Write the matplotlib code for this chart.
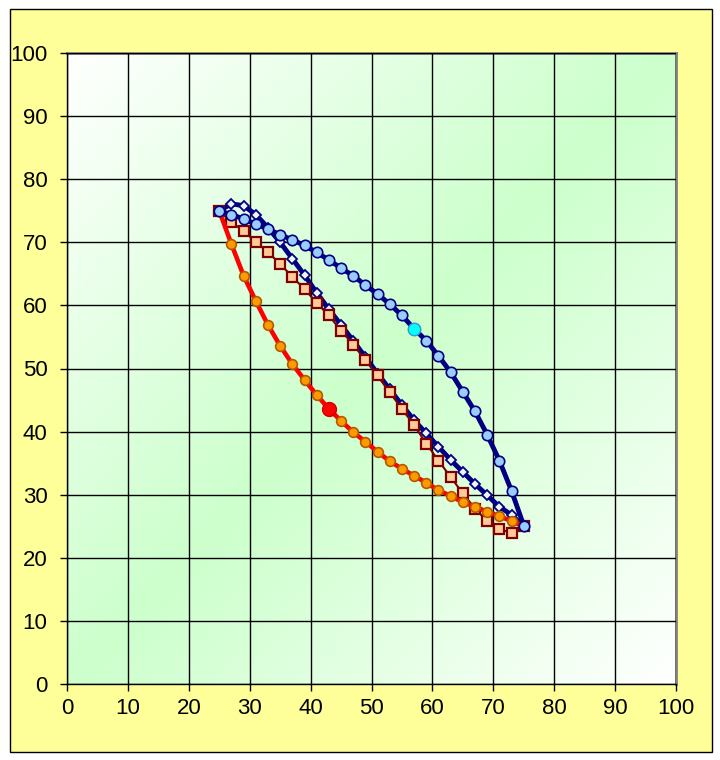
import numpy as np
import matplotlib
matplotlib.use('Agg')
from matplotlib import pyplot as plt
from matplotlib.patches import Rectangle

plt.rcParams['font.family'] = ['Liberation Sans', 'DejaVu Sans']

# x positions shared by all four series
x = [25, 27, 29, 31, 33, 35, 37, 39, 41, 43, 45, 47, 49,
     51, 53, 55, 57, 59, 61, 63, 65, 67, 69, 71, 73, 75]

# red line, orange circles
y_red = [75.0, 69.7, 64.7, 60.7, 56.9, 53.6, 50.7, 48.2, 45.8, 43.6, 41.7, 39.9, 38.4,
         36.8, 35.3, 34.1, 33.0, 31.9, 30.7, 29.8, 28.8, 28.1, 27.3, 26.6, 25.8, 25.0]
# dark red line, squares
y_sq = [75.0, 73.2, 71.8, 70.1, 68.4, 66.6, 64.5, 62.6, 60.4, 58.4, 56.0, 53.8, 51.3,
        48.9, 46.2, 43.6, 41.0, 38.1, 35.4, 32.8, 30.2, 27.8, 25.8, 24.5, 24.0, 25.0]
# navy line, diamonds
y_dia = [75.0, 76.1, 75.8, 74.4, 72.3, 70.0, 67.4, 64.8, 62.0, 59.4, 56.9, 54.4, 51.8,
         49.2, 46.7, 44.2, 41.8, 39.7, 37.6, 35.5, 33.6, 31.7, 29.9, 28.1, 26.8, 25.0]
# navy line, light blue circles
y_circ = [75.0, 74.4, 73.7, 72.9, 72.1, 71.2, 70.4, 69.5, 68.4, 67.2, 65.9, 64.7, 63.2,
          61.8, 60.2, 58.4, 56.3, 54.4, 52.0, 49.4, 46.3, 43.2, 39.5, 35.4, 30.6, 25.1]

# highlighted points
red_pt = (43, 43.6)
cyan_pt = (57, 56.3)

ticks = list(range(0, 101, 10))

fig = plt.figure(figsize=(7.2, 7.6), dpi=100)
fig.patch.set_facecolor('white')
fig.patches.append(Rectangle((10 / 720, 1 - 752 / 760), 702 / 720, 743 / 760,
                             transform=fig.transFigure, facecolor='#FFFF99',
                             edgecolor='black', linewidth=1, zorder=-10))

ax = fig.add_axes([67 / 720, 1 - 684 / 760, 609 / 720, 631 / 760])

# diagonal gradient: green along y=x, white at top-left and bottom-right
gx, gy = np.meshgrid(np.linspace(0, 100, 300), np.linspace(0, 100, 300))
t = np.abs(gx - gy) / 100.0
green = np.array([204, 255, 204]) / 255.0
img = green[None, None, :] * (1 - t[..., None]) + 1.0 * t[..., None]
ax.imshow(img, extent=[0, 100, 0, 100], origin='lower', aspect='auto', zorder=0)

ax.set_xlim(0, 100)
ax.set_ylim(0, 100)
ax.set_xticks(ticks)
ax.set_yticks(ticks)
ax.grid(True, color='black', linewidth=1)
ax.set_axisbelow(False)
for g in ax.get_xgridlines() + ax.get_ygridlines():
    g.set_zorder(1)

ax.plot(x, y_dia, color='#000080', linewidth=3.5, marker='D', markersize=5,
        markerfacecolor='#EEF4FF', markeredgecolor='#000080', markeredgewidth=1.3, zorder=3)
ax.plot(x, y_sq, color='#800000', linewidth=1.5, marker='s', markersize=7,
        markerfacecolor='#FFCC99', markeredgecolor='#800000', markeredgewidth=1.6, zorder=4)
ax.plot(x, y_red, color='#FF0000', linewidth=3.3, marker='o', markersize=7,
        markerfacecolor='#FF9900', markeredgecolor='#B35900', markeredgewidth=1.2, zorder=5)
ax.plot(x, y_circ, color='#000080', linewidth=3.5, marker='o', markersize=7.5,
        markerfacecolor='#99CCFF', markeredgecolor='#000080', markeredgewidth=1.2, zorder=6)
ax.plot(*red_pt, marker='o', markersize=10, color='#FF0000', markeredgecolor='#CC0000', zorder=7)
ax.plot(*cyan_pt, marker='o', markersize=9, color='#00FFFF', markeredgecolor='#3399CC',
        markeredgewidth=1, zorder=7)

for s in ['top', 'right']:
    ax.spines[s].set_color('#808080')
    ax.spines[s].set_linewidth(2)
for s in ['left', 'bottom']:
    ax.spines[s].set_color('black')
    ax.spines[s].set_linewidth(1)
    ax.spines[s].set_zorder(8)

ax.tick_params(axis='both', direction='out', length=5, width=1, color='black',
               labelsize=16, labelcolor='black')
ax.tick_params(axis='y', pad=9)
ax.tick_params(axis='x', pad=5)

plt.savefig('out.png', dpi=100)
